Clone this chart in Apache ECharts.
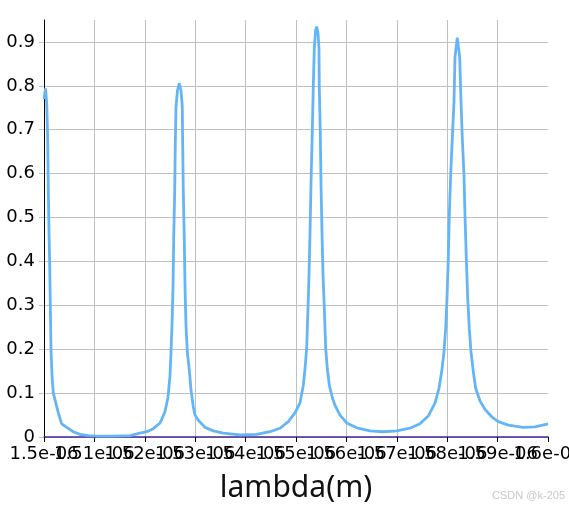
<!DOCTYPE html>
<html>
<head>
<meta charset="utf-8">
<script src="https://cdn.jsdelivr.net/npm/echarts@6/dist/echarts.min.js"></script>
<style>html,body{margin:0;padding:0;background:#fff;}#c{width:569px;height:506px;}</style>
</head>
<body>
<div id="c"></div>
<script>
// wavelength (m)
var lambdaM = [
  1.50000e-6, 1.50030e-6, 1.50054e-6, 1.50073e-6, 1.50086e-6, 1.50099e-6, 1.50112e-6, 1.50125e-6,
  1.50139e-6, 1.50159e-6, 1.50185e-6, 1.50218e-6, 1.50284e-6, 1.50351e-6, 1.50450e-6, 1.50581e-6,
  1.50714e-6, 1.50879e-6, 1.51046e-6, 1.51369e-6, 1.51706e-6, 1.51905e-6, 1.52038e-6, 1.52169e-6,
  1.52302e-6, 1.52335e-6, 1.52401e-6, 1.52460e-6, 1.52500e-6, 1.52520e-6, 1.52540e-6, 1.52560e-6,
  1.52573e-6, 1.52593e-6, 1.52605e-6, 1.52619e-6, 1.52649e-6, 1.52685e-6, 1.52718e-6, 1.52744e-6,
  1.52752e-6, 1.52764e-6, 1.52784e-6, 1.52798e-6, 1.52817e-6, 1.52843e-6, 1.52883e-6, 1.52917e-6,
  1.52962e-6, 1.52996e-6, 1.53061e-6, 1.53194e-6, 1.53359e-6, 1.53558e-6, 1.53889e-6, 1.54220e-6,
  1.54484e-6, 1.54683e-6, 1.54847e-6, 1.54980e-6, 1.55079e-6, 1.55145e-6, 1.55179e-6, 1.55212e-6,
  1.55238e-6, 1.55258e-6, 1.55278e-6, 1.55298e-6, 1.55323e-6, 1.55343e-6, 1.55363e-6, 1.55387e-6,
  1.55411e-6, 1.55437e-6, 1.55456e-6, 1.55462e-6, 1.55482e-6, 1.55496e-6, 1.55516e-6, 1.55536e-6,
  1.55562e-6, 1.55589e-6, 1.55621e-6, 1.55661e-6, 1.55720e-6, 1.55774e-6, 1.55873e-6, 1.56006e-6,
  1.56204e-6, 1.56468e-6, 1.56732e-6, 1.56998e-6, 1.57262e-6, 1.57460e-6, 1.57625e-6, 1.57758e-6,
  1.57837e-6, 1.57891e-6, 1.57936e-6, 1.57970e-6, 1.57996e-6, 1.58022e-6, 1.58042e-6, 1.58069e-6,
  1.58101e-6, 1.58135e-6, 1.58155e-6, 1.58200e-6, 1.58248e-6, 1.58274e-6, 1.58300e-6, 1.58333e-6,
  1.58353e-6, 1.58379e-6, 1.58407e-6, 1.58438e-6, 1.58472e-6, 1.58518e-6, 1.58565e-6, 1.58651e-6,
  1.58750e-6, 1.58883e-6, 1.59014e-6, 1.59212e-6, 1.59510e-6, 1.59742e-6, 1.60000e-6
];
// transmission
var transmission = [
  0.770, 0.794, 0.760, 0.680, 0.560, 0.470, 0.400, 0.300,
  0.200, 0.140, 0.100, 0.085, 0.055, 0.030, 0.022, 0.012,
  0.006, 0.003, 0.002, 0.002, 0.003, 0.009, 0.012, 0.019,
  0.032, 0.040, 0.058, 0.090, 0.140, 0.194, 0.255, 0.342,
  0.449, 0.559, 0.665, 0.752, 0.790, 0.806, 0.790, 0.752,
  0.665, 0.559, 0.449, 0.342, 0.255, 0.194, 0.153, 0.107,
  0.069, 0.050, 0.038, 0.022, 0.014, 0.009, 0.005, 0.006,
  0.012, 0.020, 0.035, 0.055, 0.078, 0.118, 0.156, 0.202,
  0.293, 0.369, 0.464, 0.578, 0.695, 0.798, 0.885, 0.925,
  0.935, 0.920, 0.885, 0.798, 0.695, 0.578, 0.464, 0.369,
  0.293, 0.202, 0.156, 0.118, 0.090, 0.072, 0.050, 0.032,
  0.021, 0.014, 0.012, 0.014, 0.020, 0.030, 0.048, 0.077,
  0.111, 0.149, 0.194, 0.248, 0.316, 0.407, 0.506, 0.597,
  0.680, 0.764, 0.866, 0.910, 0.866, 0.764, 0.680, 0.597,
  0.506, 0.407, 0.316, 0.248, 0.194, 0.149, 0.111, 0.082,
  0.063, 0.046, 0.035, 0.027, 0.022, 0.023, 0.030
];
var xTicks = [1.5e-6, 1.51e-6, 1.52e-6, 1.53e-6, 1.54e-6, 1.55e-6, 1.56e-6, 1.57e-6, 1.58e-6, 1.59e-6, 1.6e-6];
var yTicks = [0, 0.1, 0.2, 0.3, 0.4, 0.5, 0.6, 0.7, 0.8, 0.9];

function pyExp(v) {
  var s = Number(v).toExponential();
  return s.replace(/e([+-])(\d)$/, 'e$10$2');
}

var xTicksEven = xTicks.filter(function (v, i) { return i % 2 === 0; });
var xTicksOdd = xTicks.filter(function (v, i) { return i % 2 === 1; });

var data = lambdaM.map(function (x, i) { return [x, transmission[i]]; });
var grid = '#c0c0c0';
var labelStyle = {
  margin: 8, hideOverlap: false, showMinLabel: true, showMaxLabel: true,
  fontFamily: 'DejaVu Sans', fontSize: 18, color: '#000',
  formatter: function (v) { return pyExp(v); }
};
var chart = echarts.init(document.getElementById('c'), null, { renderer: 'canvas' });
chart.setOption({
  animation: false,
  backgroundColor: '#fff',
  grid: { left: 44, right: 21, top: 20, bottom: 69, containLabel: false, outerBoundsMode: 'none' },
  xAxis: [{
    type: 'value',
    min: 1.5e-6, max: 1.6e-6,
    name: 'lambda(m)', nameLocation: 'middle', nameGap: 36,
    nameTextStyle: { fontFamily: 'Noto Sans', fontSize: 30, color: '#111' },
    axisLine: { show: true, onZero: false, lineStyle: { color: '#46289c', width: 1.5 } },
    axisTick: { show: true, length: 5, customValues: xTicks, lineStyle: { color: '#000' } },
    axisLabel: Object.assign({ customValues: xTicksEven }, labelStyle),
    splitLine: { show: true, lineStyle: { color: [grid, grid, grid, grid, grid, grid, grid, grid, grid, grid, 'rgba(0,0,0,0)'], width: 1 } }
  }, {
    type: 'value',
    position: 'bottom',
    offset: 0,
    min: 1.5e-6, max: 1.6e-6,
    axisLine: { show: false, onZero: false },
    axisTick: { show: false },
    axisLabel: Object.assign({ customValues: xTicksOdd }, labelStyle),
    splitLine: { show: false }
  }],
  yAxis: {
    type: 'value',
    min: 0, max: 0.95,
    axisLine: { show: true, lineStyle: { color: '#000', width: 1 } },
    axisTick: { show: true, length: 5, customValues: yTicks, lineStyle: { color: grid } },
    axisLabel: {
      customValues: yTicks, margin: 9, showMinLabel: true,
      fontFamily: 'DejaVu Sans', fontSize: 18, color: '#000',
      formatter: function (v) { return String(+Number(v).toFixed(1)); }
    },
    splitLine: { show: true, lineStyle: { color: [grid, grid, grid, grid, grid, grid, grid, grid, grid, grid, 'rgba(0,0,0,0)'], width: 1 } }
  },
  series: [{
    type: 'line',
    xAxisIndex: 0,
    data: data,
    showSymbol: false,
    smooth: false,
    lineStyle: { color: '#64b5f6', width: 2.8 },
    z: 3
  }],
  graphic: [{
    type: 'text', right: 4, bottom: 5,
    style: { text: 'CSDN @k-205', fill: '#c8c8c8', font: '11px "Liberation Sans", Arial, sans-serif' }
  }]
});
</script>
</body>
</html>
